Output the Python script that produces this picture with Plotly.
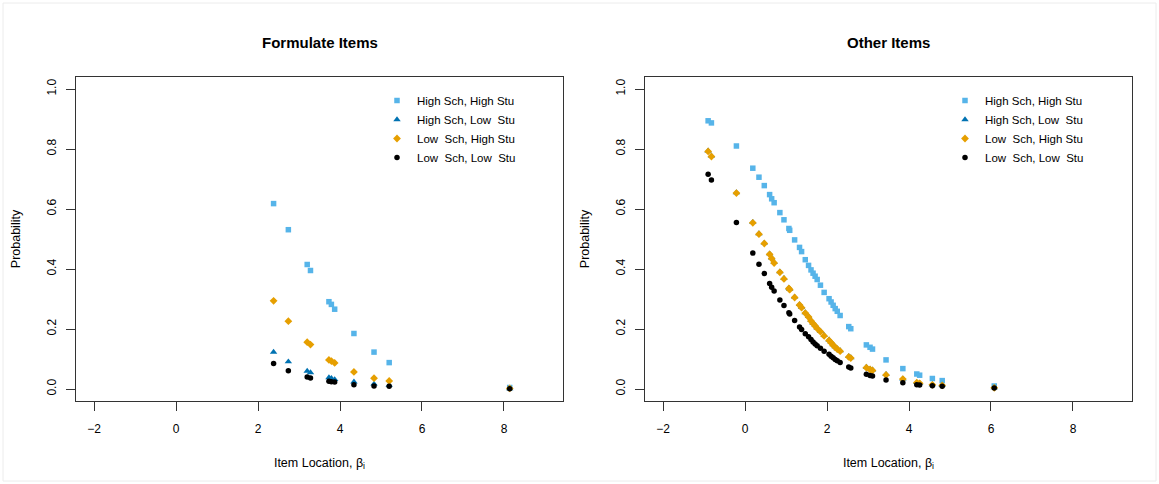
import plotly.graph_objects as go

# ---------------- data ----------------
series_names = ["High Sch, High Stu", "High Sch, Low\u00a0 Stu",
                "Low\u00a0 Sch, High Stu", "Low\u00a0 Sch, Low\u00a0 Stu"]
series_colors = ["#56B4E9", "#0072B2", "#E69F00", "#000000"]
series_symbols = ["square", "triangle-up", "diamond", "circle"]
series_sizes = [5.5, 6.5, 6, 5.5]

# Formulate items
form_beta = [2.38, 2.74, 3.20, 3.28, 3.73, 3.79, 3.87, 4.34, 4.83, 5.20, 8.14]
form_hh = [0.618, 0.531, 0.415, 0.395, 0.291, 0.282, 0.266, 0.185, 0.123, 0.088, 0.005]
form_hl = [0.123, 0.091, 0.060, 0.055, 0.038, 0.036, 0.032, 0.024, 0.017, 0.013, 0.001]
form_lh = [0.294, 0.226, 0.156, 0.148, 0.097, 0.093, 0.087, 0.057, 0.036, 0.027, 0.002]
form_ll = [0.085, 0.061, 0.040, 0.037, 0.026, 0.024, 0.023, 0.014, 0.010, 0.009, 0.001]

# Other items
oth_beta = [-0.90, -0.82, -0.21, 0.19, 0.34, 0.47, 0.60, 0.65, 0.71, 0.85,
            0.95, 1.07, 1.09, 1.21, 1.33, 1.38, 1.47, 1.55, 1.61, 1.66,
            1.71, 1.76, 1.84, 1.93, 2.05, 2.10, 2.15, 2.20, 2.25, 2.32,
            2.53, 2.58, 2.96, 3.05, 3.11, 3.44, 3.85, 4.19, 4.26, 4.57,
            4.81, 6.08]
oth_hh = [0.894, 0.887, 0.810, 0.736, 0.706, 0.678, 0.648, 0.634, 0.621, 0.588,
          0.564, 0.535, 0.529, 0.497, 0.472, 0.458, 0.431, 0.412, 0.397, 0.386,
          0.376, 0.365, 0.346, 0.322, 0.301, 0.290, 0.279, 0.268, 0.259, 0.245,
          0.208, 0.201, 0.147, 0.139, 0.133, 0.097, 0.068, 0.050, 0.046, 0.035,
          0.028, 0.010]
oth_hl = [0.794, 0.777, 0.655, 0.556, 0.518, 0.487, 0.451, 0.437, 0.422, 0.391,
          0.369, 0.337, 0.333, 0.307, 0.282, 0.273, 0.255, 0.242, 0.229, 0.220,
          0.212, 0.204, 0.193, 0.179, 0.164, 0.156, 0.148, 0.141, 0.135, 0.128,
          0.109, 0.105, 0.073, 0.067, 0.064, 0.049, 0.034, 0.022, 0.020, 0.015,
          0.013, 0.005]
oth_lh = [0.792, 0.775, 0.653, 0.554, 0.516, 0.485, 0.449, 0.435, 0.420, 0.389,
          0.367, 0.335, 0.331, 0.305, 0.280, 0.271, 0.253, 0.240, 0.227, 0.218,
          0.210, 0.202, 0.191, 0.177, 0.162, 0.154, 0.146, 0.139, 0.133, 0.126,
          0.107, 0.103, 0.071, 0.065, 0.062, 0.047, 0.033, 0.021, 0.019, 0.014,
          0.012, 0.004]
oth_ll = [0.716, 0.697, 0.555, 0.453, 0.416, 0.385, 0.352, 0.339, 0.327, 0.297,
          0.278, 0.254, 0.250, 0.228, 0.207, 0.198, 0.184, 0.174, 0.165, 0.157,
          0.150, 0.144, 0.136, 0.126, 0.116, 0.109, 0.104, 0.098, 0.094, 0.088,
          0.073, 0.070, 0.049, 0.045, 0.043, 0.030, 0.021, 0.014, 0.013, 0.011,
          0.009, 0.003]

panel_titles = ["Formulate Items", "Other Items"]
x_ticks = [-2, 0, 2, 4, 6, 8]
y_ticks = [0.0, 0.2, 0.4, 0.6, 0.8, 1.0]
y_ticklabels = ["0.0", "0.2", "0.4", "0.6", "0.8", "1.0"]

# ---------------- figure ----------------
W, H = 1159, 484
FONT = "Liberation Sans, Arial, Helvetica, sans-serif"

fig = go.Figure()

panels = [
    (form_beta, [form_hh, form_hl, form_lh, form_ll], "x", "y", "legend"),
    (oth_beta, [oth_hh, oth_hl, oth_lh, oth_ll], "x2", "y2", "legend2"),
]
for beta, vals, xa, ya, lg in panels:
    for name, col, sym, sz, v in zip(series_names, series_colors,
                                     series_symbols, series_sizes, vals):
        fig.add_trace(go.Scatter(
            x=beta, y=v, mode="markers", name=name,
            marker=dict(symbol=sym, size=sz, color=col, line=dict(width=0)),
            xaxis=xa, yaxis=ya, legend=lg, showlegend=True))

box_l = [76, 645]
box_r = [563, 1132]
box_top, box_bot = 77, 401

axis_common = dict(
    showline=True, mirror=True, linecolor="#333333", linewidth=1,
    ticks="outside", ticklen=9, tickcolor="#333333", tickwidth=1,
    showgrid=False, zeroline=False,
    tickfont=dict(family=FONT, size=12, color="#000000"),
)

for i in range(2):
    sfx = "" if i == 0 else str(i + 1)
    fig.update_layout(**{
        "xaxis" + sfx: dict(
            axis_common,
            domain=[box_l[i] / W, box_r[i] / W],
            range=[-2.44, 9.44], tickvals=x_ticks,
            anchor="y" + sfx, ticklabelstandoff=8,
            title=dict(text="Item Location, \u03b2<sub>i</sub>",
                       font=dict(family=FONT, size=12.5, color="#000000"),
                       standoff=22),
        ),
        "yaxis" + sfx: dict(
            axis_common,
            domain=[1 - box_bot / H, 1 - box_top / H],
            range=[-0.04, 1.04], tickvals=y_ticks, ticktext=y_ticklabels,
            tickangle=-90, anchor="x" + sfx, ticklabelstandoff=5,
            title=dict(text="Probability",
                       font=dict(family=FONT, size=12.5, color="#000000"),
                       standoff=21),
        ),
    })
    fig.add_annotation(
        text="<b>" + panel_titles[i] + "</b>",
        x=(box_l[i] + box_r[i]) / 2 / W, y=1 - 43 / H,
        xref="paper", yref="paper", xanchor="center", yanchor="middle",
        showarrow=False, font=dict(family=FONT, size=15, color="#000000"))

legend_common = dict(
    xref="paper", yref="paper", xanchor="left", yanchor="top",
    bgcolor="rgba(0,0,0,0)", borderwidth=0, itemwidth=30,
    font=dict(family=FONT, size=11.5, color="#000000"),
    tracegroupgap=0, itemclick=False, itemdoubleclick=False,
)
fig.update_layout(
    width=W, height=H,
    margin=dict(l=0, r=0, t=0, b=0, autoexpand=False),
    paper_bgcolor="white", plot_bgcolor="white",
    legend=dict(legend_common, x=377 / W, y=1 - 86 / H),
    legend2=dict(legend_common, x=945 / W, y=1 - 86 / H),
    showlegend=True,
)
# faint outer frame of the image
fig.add_shape(type="rect", xref="paper", yref="paper",
              x0=3 / W, x1=1 - 3 / W, y0=3 / H, y1=1 - 3 / H,
              line=dict(color="#ececec", width=1))

fig.write_html("out.html")
